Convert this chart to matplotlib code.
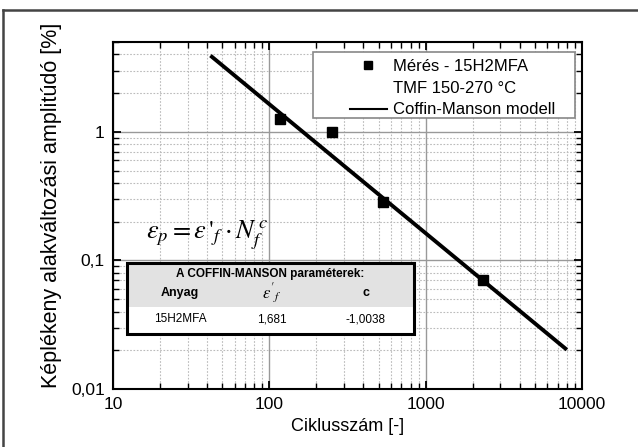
import matplotlib
matplotlib.use("Agg")
import matplotlib.pyplot as plt
from matplotlib.lines import Line2D
from matplotlib.patches import Rectangle
from matplotlib.ticker import LogLocator, FixedLocator, FixedFormatter, NullFormatter

plt.rcParams['font.family'] = ['Liberation Sans', 'DejaVu Sans']

# mért pontok (ciklusszám, képlékeny alakváltozási amplitúdó %)
meres_N = [117, 252, 534, 2330]
meres_eps = [1.25, 0.99, 0.284, 0.0706]

# Coffin-Manson modell egyenes végpontjai
modell_N = [42, 8000]
modell_eps = [3.92, 0.0202]

x_ticks = [10, 100, 1000, 10000]
x_labels = ['10', '100', '1000', '10000']
y_ticks = [0.01, 0.1, 1]
y_labels = ['0,01', '0,1', '1']

tabla_fejlec = ['Anyag', r"$\varepsilon'_{f}$", 'c']
tabla_sor = ['15H2MFA', '1,681', '-1,0038']

W, H = 638, 447
fig = plt.figure(figsize=(W / 100, H / 100), dpi=100)
ax = fig.add_axes([113 / W, 1 - 389 / H, 469 / W, 347 / H])


def ax_x(px):
    return (px - 113) / 469


def ax_y(py):
    return 1 - (py - 42) / 347


ax.set_xscale('log')
ax.set_yscale('log')
ax.set_xlim(10, 10000)
ax.set_ylim(0.01, 5)

ax.plot(modell_N, modell_eps, color='black', lw=2.8, solid_capstyle='butt', zorder=3)
ax.plot(meres_N, meres_eps, ls='none', marker='s', ms=6.5, color='black', zorder=4)

ax.xaxis.set_major_locator(FixedLocator(x_ticks))
ax.xaxis.set_major_formatter(FixedFormatter(x_labels))
ax.yaxis.set_major_locator(FixedLocator(y_ticks))
ax.yaxis.set_major_formatter(FixedFormatter(y_labels))
ax.xaxis.set_minor_locator(LogLocator(base=10, subs=range(2, 10)))
ax.yaxis.set_minor_locator(LogLocator(base=10, subs=range(2, 10)))
ax.xaxis.set_minor_formatter(NullFormatter())
ax.yaxis.set_minor_formatter(NullFormatter())

ax.tick_params(which='both', direction='in', top=True, right=True, colors='black',
               labelsize=12.5)
ax.tick_params(which='major', length=6, width=1.3, pad=6)
ax.tick_params(which='minor', length=4, width=1.0)

ax.grid(which='major', color='#999999', lw=1.0, ls='-')
ax.grid(which='minor', color='#bbbbbb', lw=0.8, ls=(0, (1.5, 1.5)))
ax.set_axisbelow(True)

for s in ax.spines.values():
    s.set_linewidth(1.5)

ax.set_xlabel('Ciklusszám [-]', fontsize=13, labelpad=4)
ax.set_ylabel('Képlékeny alakváltozási amplitúdó [%]', fontsize=15.5)
ax.yaxis.set_label_coords(ax_x(62), ax_y(205))

# jelmagyarázat: keret külön téglalapként, bal oldalon széles margóval
ax.add_patch(Rectangle((ax_x(313), ax_y(118)), ax_x(575) - ax_x(313), ax_y(52) - ax_y(118),
                       transform=ax.transAxes, facecolor='white', edgecolor='#888888',
                       lw=1.2, zorder=5))
handles = [
    Line2D([], [], ls='none', marker='s', ms=6, color='black'),
    Line2D([], [], ls='none', marker=None),
    Line2D([], [], color='black', lw=1.5),
]
labels = ['Mérés - 15H2MFA', 'TMF 150-270 °C', 'Coffin-Manson modell']
leg = ax.legend(handles, labels, loc='upper left', bbox_to_anchor=(ax_x(350), ax_y(59)),
                fontsize=12, frameon=False, handlelength=2.2, handletextpad=0.36,
                labelspacing=0.4, borderpad=0, borderaxespad=0)
leg.set_zorder(6)

# képlet
ax.text(0.07, 0.445, r"$\varepsilon_p = \varepsilon\,'_f \cdot N_f^{\,c}$",
        transform=ax.transAxes, fontsize=19, math_fontfamily='stix',
        ha='left', va='center')

# paramétertáblázat
x0, x1 = ax_x(127), ax_x(414)
y0, y1 = ax_y(334), ax_y(263)
y_fej = ax_y(307)
ax.add_patch(Rectangle((x0, y_fej), x1 - x0, y1 - y_fej, transform=ax.transAxes,
                       facecolor='#e2e2e2', edgecolor='none', zorder=5))
ax.add_patch(Rectangle((x0, y0), x1 - x0, y_fej - y0, transform=ax.transAxes,
                       facecolor='white', edgecolor='none', zorder=5))
ax.add_patch(Rectangle((x0, y0), x1 - x0, y1 - y0, transform=ax.transAxes,
                       facecolor='none', edgecolor='black', lw=2.2, zorder=6))

col_x = [ax_x(180), ax_x(272), ax_x(366)]
ax.text((x0 + x1) / 2, ax_y(274), 'A COFFIN-MANSON paraméterek:', transform=ax.transAxes,
        fontsize=8.5, fontweight='bold', ha='center', va='center', zorder=7)
for cx, h, d in zip(col_x, tabla_fejlec, tabla_sor):
    fs = 12 if h.startswith('$') else 9
    ax.text(cx, ax_y(293), h, transform=ax.transAxes, fontsize=fs, fontweight='bold',
            ha='center', va='center', zorder=7, math_fontfamily='stix')
    ax.text(cx, ax_y(319), d, transform=ax.transAxes, fontsize=8.5,
            ha='center', va='center', zorder=7)

# külső keret
fig.add_artist(Line2D([3 / W, 1], [1 - 10 / H, 1 - 10 / H], color='#444444', lw=1.8))
fig.add_artist(Line2D([3 / W, 3 / W], [0, 1 - 10 / H], color='#444444', lw=1.8))

fig.savefig('out.png', dpi=100)
